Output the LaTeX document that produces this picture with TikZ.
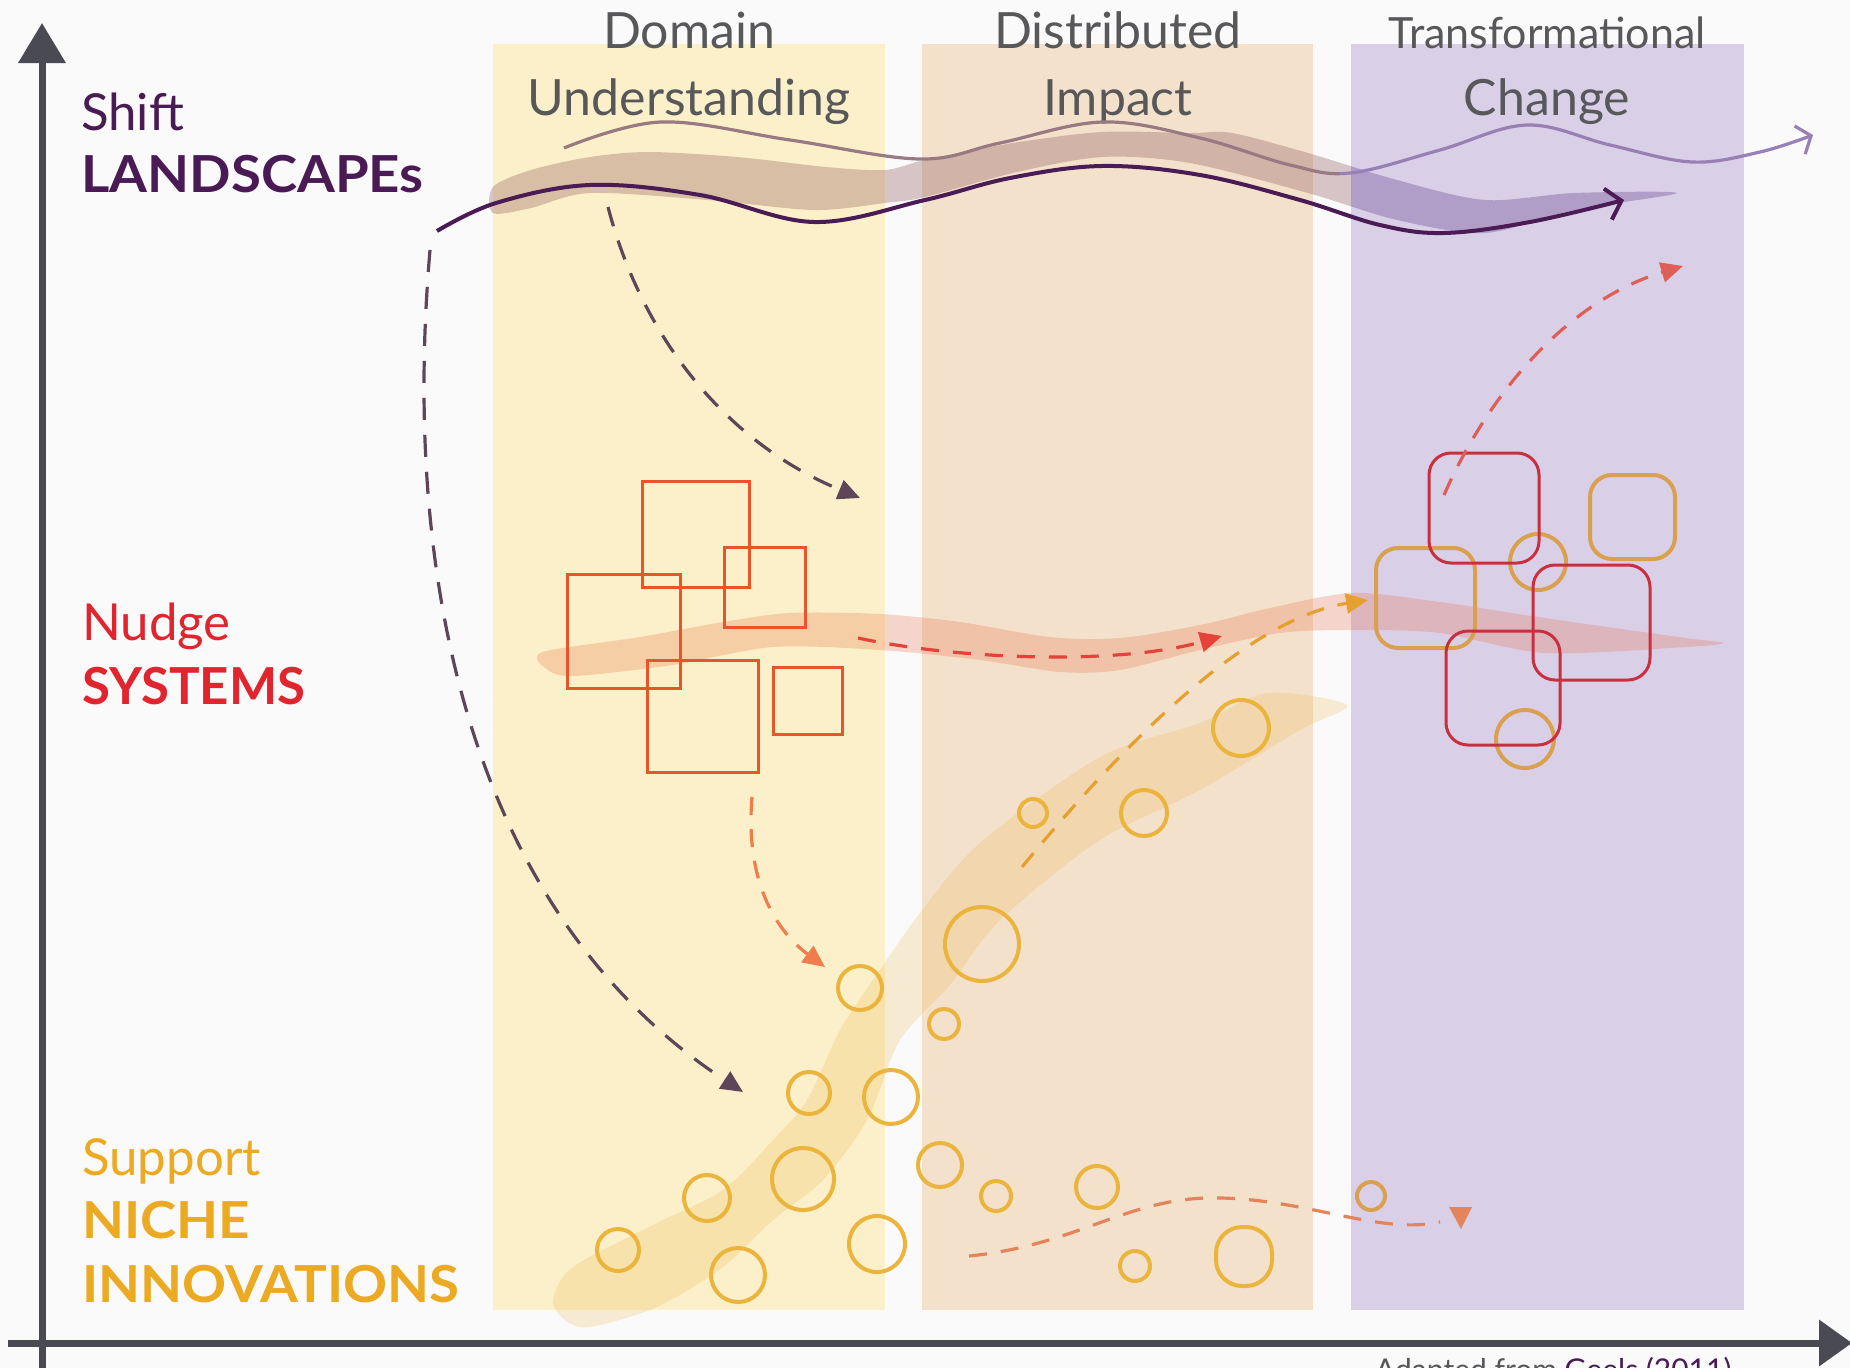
\documentclass[tikz,border=0pt]{standalone}
\usepackage{fontspec}
\usepackage{graphicx}
\setmainfont{Lato}
\usetikzlibrary{arrows.meta}
\definecolor{bg}{HTML}{FAFAFB}
\definecolor{bandY}{HTML}{FBF0C9}
\definecolor{bandP}{HTML}{F3E1CC}
\definecolor{bandL}{HTML}{D9D0E8}
\definecolor{axisc}{HTML}{4A4A52}
\definecolor{titlec}{HTML}{58585B}
\definecolor{landc}{HTML}{4A1A55}
\definecolor{nudgec}{HTML}{E0252F}
\definecolor{nichec}{HTML}{ECA922}
\definecolor{brushBrown}{RGB}{140,85,90}
\definecolor{brushPurple}{RGB}{116,83,152}
\definecolor{brushRed}{RGB}{235,115,75}
\definecolor{brushGold}{RGB}{240,185,80}
\definecolor{thinL}{HTML}{9A7A82}
\definecolor{thinR}{HTML}{9880B4}
\definecolor{darkc}{HTML}{4A1B55}
\definecolor{sqred}{HTML}{E8552B}
\definecolor{rrred}{HTML}{C8303F}
\definecolor{rrorange}{HTML}{D9A050}
\definecolor{circc}{HTML}{EBB43C}
\definecolor{dashdark}{HTML}{5E4558}
\definecolor{dashorange}{HTML}{EE7F4C}
\definecolor{dashred}{HTML}{E5433A}
\definecolor{dashgold}{HTML}{E5A030}
\definecolor{dashwave}{HTML}{E3845A}
\definecolor{dashup}{HTML}{DE5F58}
\newcommand{\widebold}[1]{\scalebox{1.07}[1]{#1}}
\tikzset{
  title/.style={font=\fontsize{50}{60}\selectfont, text=titlec, anchor=base, inner sep=0pt},
  lab/.style={font=\fontsize{51}{60}\selectfont, anchor=base west, inner sep=0pt},
  blab/.style={font=\fontsize{51}{60}\selectfont\bfseries, anchor=base west, inner sep=0pt},
  axisline/.style={axisc, line width=7pt},
  sq/.style={draw=sqred, line width=3pt},
  rr/.style={draw=rrred, line width=3pt, rounded corners=22pt},
  ro/.style={draw=rrorange, line width=4pt, rounded corners=22pt},
  circ/.style={draw=circc, line width=4pt},
  dsh/.style={line width=3.2pt, dash pattern=on 18pt off 14pt},
  tri/.style={-{Triangle[length=22pt,width=20pt]}},
}
\begin{document}
\begin{tikzpicture}[x=1pt,y=-1pt]
\useasboundingbox (0,0) rectangle (1850,1368);
\clip (0,0) rectangle (1850,1368);
\fill[bg] (0,0) rectangle (1850,1368);
% bands
\fill[bandY] (493,44) rectangle (885,1310);
\fill[bandP] (922,44) rectangle (1313,1310);
\fill[bandL] (1351,44) rectangle (1744,1310);
% brush paths
\path[save path=\topbrush] plot[smooth cycle, tension=0.5] coordinates {
 (493,187) (531,170) (590,157) (649,152) (737,157) (826,167) (885,170) (925,160)
 (1013,143) (1102,132) (1190,133) (1232,133) (1308,153) (1397,180) (1485,200) (1574,193) (1677,193)
 (1574,210) (1485,233) (1397,220) (1308,193) (1190,163) (1102,157) (1013,173) (925,197)
 (885,203) (814,210) (708,200) (590,193) (531,208) (493,213)};
\path[save path=\midbrush] plot[smooth cycle, tension=0.5] coordinates {
 (543,652) (640,637) (723,622) (790,613) (880,614) (960,622) (1050,637) (1120,638) (1200,625)
 (1270,608) (1353,593) (1440,602) (1545,618) (1686,638) (1724,643)
 (1686,647) (1545,653) (1440,633) (1353,630) (1280,633) (1200,650) (1120,670) (1060,672)
 (980,660) (880,650) (773,647) (673,665) (573,676) (545,668)};
\path[save path=\lowbrush] plot[smooth cycle, tension=0.5] coordinates {
 (553,1300) (573,1267) (657,1223) (723,1190) (773,1140) (807,1100) (840,1030) (873,980)
 (920,913) (980,843) (1100,757) (1200,723) (1267,693) (1347,705)
 (1300,730) (1200,790) (1100,840) (1000,920) (950,985) (900,1040) (867,1120) (823,1180)
 (773,1220) (723,1267) (657,1307) (590,1327) (565,1320)};
\fill[brushGold, fill opacity=0.24, use path=\lowbrush];
\fill[brushRed, fill opacity=0.27, use path=\midbrush];
\begin{scope}
  \clip (0,0) rectangle (1351,1368);
  \fill[brushBrown, fill opacity=0.32, use path=\topbrush];
\end{scope}
\begin{scope}
  \clip (1351,0) rectangle (1850,1368);
  \fill[brushPurple, fill opacity=0.4, use path=\topbrush];
\end{scope}
% titles
\node[title] (t1a) at (689,48) {Domain};
\node[title] (t1b) at (689,115) {Understanding};
\node[title] (t2a) at (1118,48) {Distributed};
\node[title] (t2b) at (1118,115) {Impact};
\node[title, font=\fontsize{43}{50}\selectfont] (t3a) at (1547,48) {Transformational};
\node[title] (t3b) at (1547,115) {Change};
% thin top wave
\path[save path=\thinwave] plot[smooth, tension=0.6] coordinates {
 (564,148) (661,122) (790,140) (920,159) (1000,143) (1103,122) (1200,138) (1290,165)
 (1350,173) (1440,150) (1527,125) (1610,145) (1692,162) (1760,152) (1813,135)};
\begin{scope}
  \clip (0,0) rectangle (1340,1368);
  \draw[thinL, line width=3.2pt, use path=\thinwave];
\end{scope}
\begin{scope}
  \clip (1340,0) rectangle (1850,1368);
  \draw[thinR, line width=3.2pt, -{Straight Barb[length=12pt,width=30pt]}] plot[smooth, tension=0.6] coordinates {
 (564,148) (661,122) (790,140) (920,159) (1000,143) (1103,122) (1200,138) (1290,165)
 (1350,173) (1440,150) (1527,125) (1610,145) (1692,162) (1760,152) (1813,135)};
\end{scope}
% dark curve
\draw[darkc, line width=4pt, -{Straight Barb[length=14pt,width=32pt]}] plot[smooth, tension=0.6] coordinates {
 (437,231) (496,203) (590,185) (700,195) (814,222) (925,200) (1010,178) (1102,166)
 (1200,175) (1300,200) (1380,225) (1444,233) (1530,222) (1624,200)};
% red squares
\draw[sq] (642,481) rectangle (749,587);
\draw[sq] (567,574) rectangle (680,688);
\draw[sq] (724,547) rectangle (805,627);
\draw[sq] (647,660) rectangle (758,772);
\draw[sq] (773,667) rectangle (842,734);
% rounded squares in lavender
\draw[ro] (1590,475) rectangle (1675,559);
\draw[ro] (1376,548) rectangle (1475,648);
\draw[rrorange, line width=4pt] (1538,562) circle[radius=28];
\draw[rrorange, line width=4pt] (1525,739) circle[radius=29];
\draw[rr] (1429,453) rectangle (1539,563);
\draw[rr] (1533,565) rectangle (1650,680);
\draw[rr] (1446,631) rectangle (1560,745);
% circles
\foreach \cx/\cy/\r in {860/988/22, 809/1093/21, 891/1097/27, 803/1179/31, 707/1198/23,
  618/1250/21, 738/1275/27, 877/1244/28, 1241/728/28, 1033/813/14, 1144/813/23,
  982/944/37, 944/1024/15, 940/1165/22, 996/1196/15, 1097/1187/21, 1135/1266/15}
  \draw[circ] (\cx,\cy) circle[radius=\r];
\draw[circ, rounded corners=26pt] (1216,1227) rectangle (1272,1286);
\draw[rrorange, line width=4pt] (1371,1196) circle[radius=14];
% dashed arrows
\draw[dsh, dashdark, tri, dash pattern=on 22pt off 15pt] (430,250) .. controls (400,600) and (480,920) .. (743,1092);
\draw[dsh, dashdark, tri, dash pattern=on 20pt off 15pt] (608,207) .. controls (640,330) and (720,440) .. (860,498);
\draw[dsh, dashorange, tri] (752,797) .. controls (745,880) and (775,930) .. (825,967);
\draw[dsh, dashred, tri] (858,638) .. controls (960,660) and (1120,665) .. (1222,636);
\draw[dsh, dashgold, tri] (1022,867) .. controls (1110,760) and (1240,620) .. (1368,600);
\draw[dsh, dashup, tri] (1444,495) .. controls (1490,390) and (1570,300) .. (1683,266);
\draw[dsh, dashwave] (969,1256) .. controls (1080,1245) and (1130,1195) .. (1221,1198)
  .. controls (1310,1200) and (1380,1235) .. (1440,1222);
\fill[dashwave] (1449,1207) -- (1472,1207) -- (1461,1229) -- cycle;
% axes
\draw[axisline, -{Triangle[length=40pt,width=46pt]}] (42,1368) -- (42,23);
\draw[axisline, -{Triangle[length=33pt,width=45pt]}] (8,1343) -- (1852,1343);
% left labels
\node[lab, text=landc] (shift) at (81,130) {Shift};
\node[blab, text=landc] (land) at (81,192) {\widebold{LANDSCAPEs}};
\node[lab, text=nudgec] (nudge) at (82,640) {Nudge};
\node[blab, text=nudgec] (sys) at (82,704) {SYSTEMS};
\node[lab, text=nichec] (support) at (82,1175) {Support};
\node[blab, text=nichec] (niche) at (82,1238) {\widebold{NICHE}};
\node[blab, text=nichec] (innov) at (82,1302) {\widebold{INNOVATIONS}};
% source (cut off at the bottom, as in the reference)
\node[anchor=base west, inner sep=0pt, font=\fontsize{30}{36}\selectfont] (src) at (1375,1380)
  {\textcolor{titlec}{Adapted from} \textcolor{landc}{Geels (2011)}};
\end{tikzpicture}
\end{document}
